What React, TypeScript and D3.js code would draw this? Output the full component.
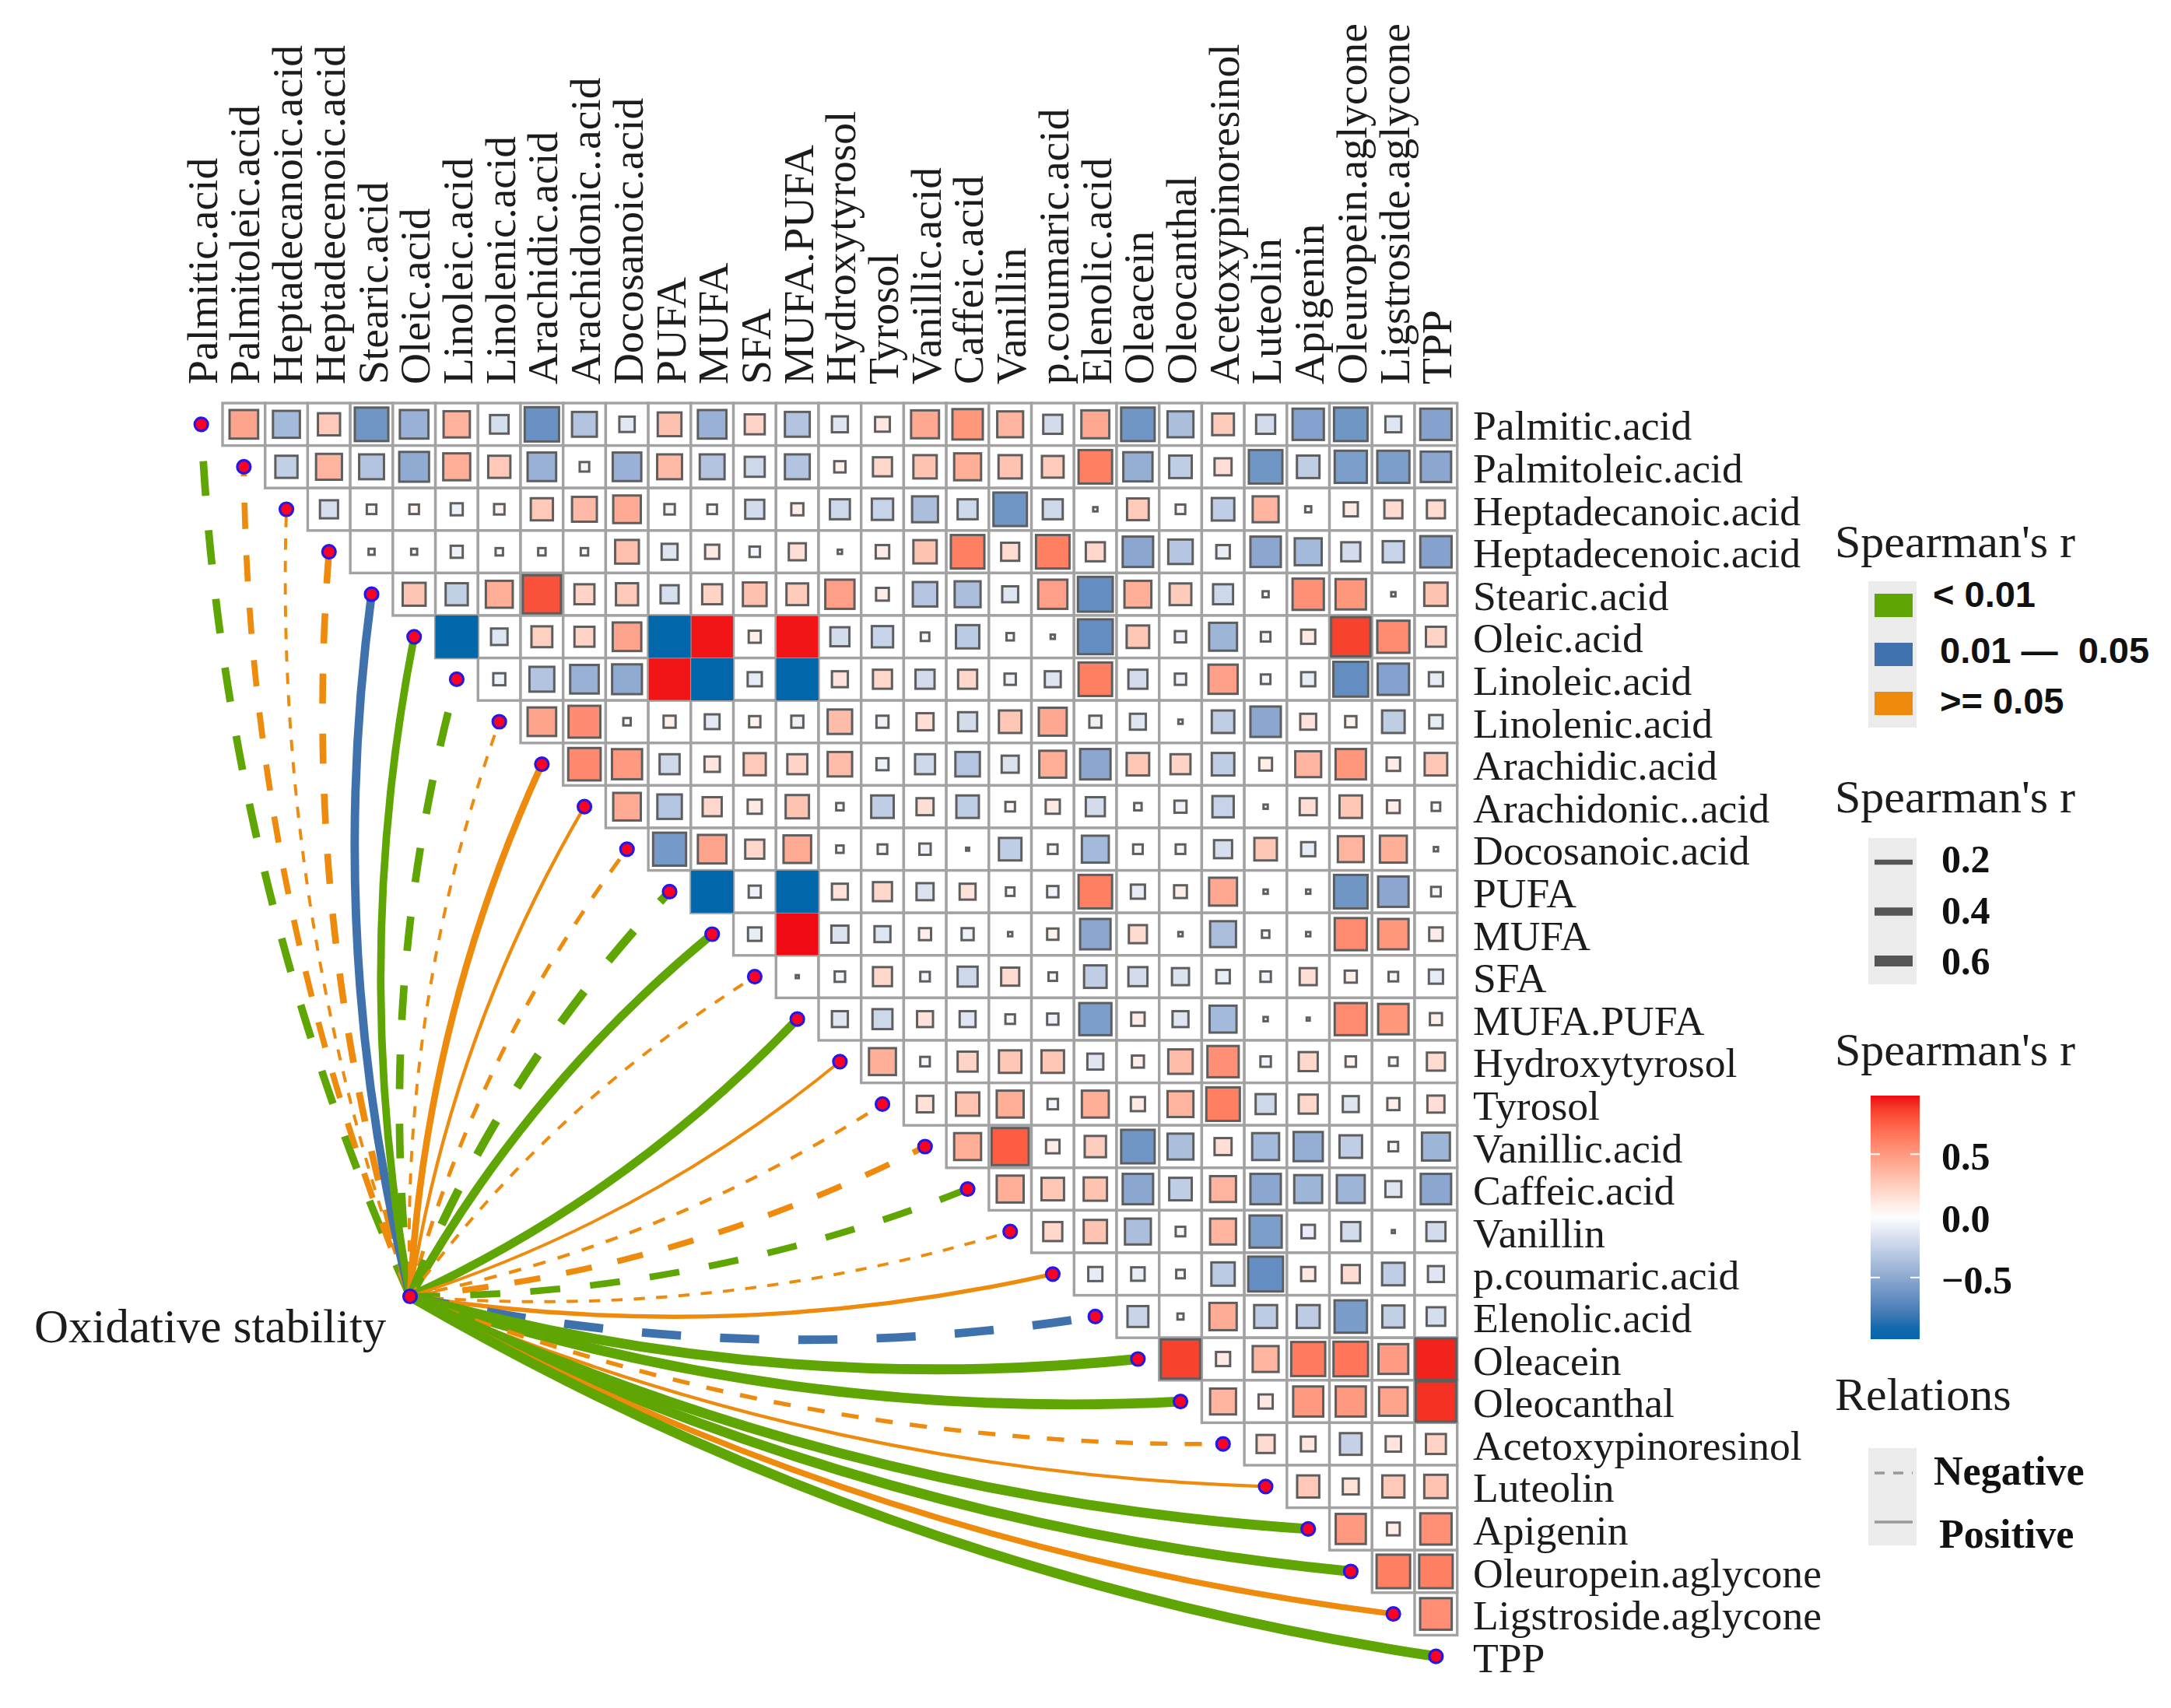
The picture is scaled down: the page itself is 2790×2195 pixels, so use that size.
import * as d3 from "d3"

const labels = [
  "Palmitic.acid", "Palmitoleic.acid", "Heptadecanoic.acid", "Heptadecenoic.acid", "Stearic.acid",
  "Oleic.acid", "Linoleic.acid", "Linolenic.acid", "Arachidic.acid", "Arachidonic..acid",
  "Docosanoic.acid", "PUFA", "MUFA", "SFA", "MUFA.PUFA",
  "Hydroxytyrosol", "Tyrosol", "Vanillic.acid", "Caffeic.acid", "Vanillin",
  "p.coumaric.acid", "Elenolic.acid", "Oleacein", "Oleocanthal", "Acetoxypinoresinol",
  "Luteolin", "Apigenin", "Oleuropein.aglycone", "Ligstroside.aglycone", "TPP",
]

// upper triangle, row i holds the columns i + 1 ... 29
const corrValues: number[][] = [
  [.45, -.4, .27, -.62, -.45, .38, -.19, -.65, -.34, -.13, .31, -.45, .22, -.34, -.14, .12, .43, .51, .37, -.2, .43, -.62, -.37, .26, -.2, -.54, -.62, -.14, -.54],
  [-.27, .37, -.34, -.49, .4, .27, -.45, -.05, -.45, .34, -.34, -.22, -.34, .07, .2, .3, .4, .3, .26, .62, -.47, -.28, .16, -.62, -.28, -.57, -.57, -.51],
  [-.18, -.05, .05, -.08, .06, .27, .34, .42, -.06, -.05, -.2, .08, -.22, -.25, -.37, -.22, -.62, -.22, -.01, .26, .05, -.28, .37, -.02, .11, .18, .18],
  [-.02, -.02, -.08, -.03, -.03, -.03, .31, -.14, .11, -.06, .16, -.01, .1, .3, .62, .18, .62, .2, -.51, -.33, -.1, -.51, -.4, -.2, -.25, -.54],
  [.29, -.27, .4, .8, .22, .27, -.18, .22, .31, .26, .47, .09, -.33, -.37, -.14, .47, -.67, .4, .26, -.22, -.02, .54, .51, -.01, .3],
  [-1, -.15, .24, .22, .45, -.98, .95, .08, .95, -.2, -.25, -.04, -.3, -.03, -.01, -.67, .28, -.07, -.43, -.05, .11, .85, .57, .22],
  [-.08, -.34, -.45, -.49, .95, -.98, -.11, -.98, .14, .2, -.2, .2, -.07, -.14, .62, -.2, -.07, .47, -.05, -.11, -.67, -.54, -.11],
  [.45, .56, -.03, .08, -.12, .07, -.08, .33, -.08, .16, -.2, .28, .43, -.08, -.14, -.01, -.28, -.51, .14, .07, -.28, -.1],
  [.58, .5, -.22, .13, .27, .22, .33, -.08, -.22, -.33, -.16, .4, -.51, .28, .22, -.28, .09, .37, .51, .1, .28],
  [.42, -.33, .2, .11, .3, -.03, -.28, .16, -.28, .05, .11, -.2, -.03, -.08, -.25, -.01, .16, .28, .09, -.04],
  [-.6, .45, .2, .42, -.03, -.05, -.07, -.005, -.28, -.05, -.4, -.05, -.05, -.18, .28, -.11, .37, .4, -.01],
  [-.98, -.08, -.98, .14, .2, -.16, .14, -.04, -.07, .62, -.11, .09, .43, -.01, -.01, -.62, -.51, -.05],
  [-.1, .96, -.16, -.14, .08, -.08, -.01, .07, -.51, .18, -.01, -.37, -.03, -.01, .57, .51, .1],
  [-.005, -.06, .2, -.05, -.22, .18, -.04, -.28, -.2, -.16, -.1, -.06, .16, .08, -.05, -.11],
  [-.14, -.22, .14, -.14, -.05, -.07, -.57, .1, -.14, -.4, -.01, -.005, .57, .51, .08],
  [.4, -.05, .22, .28, .28, -.14, .08, .33, .54, -.06, .2, .06, -.04, .18],
  [.15, .3, .4, -.06, .4, .11, .37, .62, -.22, .2, -.14, .08, .16],
  [.4, .76, .1, .25, -.62, -.37, .16, -.4, -.47, -.28, -.05, -.43],
  [.4, .28, .3, -.51, -.28, .37, -.51, -.43, -.43, -.14, -.51],
  [.2, .3, -.37, -.05, .37, -.57, -.1, -.2, -.005, -.2],
  [-.11, -.1, -.04, -.3, -.67, .11, .18, -.28, -.14],
  [-.24, -.02, .41, -.29, -.29, -.58, -.27, -.19],
  [.85, .11, .37, .64, .66, .49, .93],
  [.37, .11, .5, .5, .45, .9],
  [.18, .12, -.26, .13, .22],
  [.27, .14, .27, .3],
  [.5, .09, .54],
  [.62, .62],
  [.55],
]

// oxidative stability against each compound, Spearman's r and p class
const linkR = [
  -.37, -.26, -.06, -.31, .43, .37, -.37, -.06, .31, .08,
  -.12, -.43, .43, -.06, .43, .06, -.08, -.26, -.31, -.06,
  .14, -.43, .54, .54, -.14, .08, .54, .54, .26, .54,
]
const linkP = [
  "low", "high", "high", "high", "mid", "low", "low", "high", "high", "high",
  "high", "low", "low", "high", "low", "high", "high", "high", "low", "high",
  "high", "mid", "low", "low", "high", "high", "low", "low", "high", "low",
]

const pLevels = ["low", "mid", "high"]
const pLabels = ["< 0.01", "0.01 \u2014  0.05", ">= 0.05"]
const pColors = ["#5FA503", "#3F72AC", "#EE8A0C"]
const widthBreaks = [0.2, 0.4, 0.6]
const barTicks = [0.5, 0, -0.5]
const hubLabel = "Oxidative stability"

const serif = "'Liberation Serif', serif"
const sans = "'Liberation Sans', sans-serif"
const textColor = "#1c1c1c"

const hub = { x: 527, y: 1666 }
const cellSize = 54.7

const x = d3.scaleBand<string>().domain(labels).range([231.3, 1872.7])
const y = d3.scaleBand<string>().domain(labels).range([518, 2156])
const cx = (name: string) => (x(name) ?? 0) + x.bandwidth() / 2
const cy = (name: string) => (y(name) ?? 0) + y.bandwidth() / 2

const fillScale = d3
  .scaleLinear<string>()
  .domain([-0.92, 0, 0.96])
  .range(["#0267AA", "#ffffff", "#F00A14"])
  .interpolate(d3.interpolateLab)
  .clamp(true)
const sizeScale = d3.scaleSqrt().domain([0, 1]).range([0, cellSize])
const widthScale = d3.scaleLinear().domain([0, 0.6]).range([2.8, 14])
const colorScale = d3.scaleOrdinal<string>().domain(pLevels).range(pColors)
const barScale = d3.scaleLinear().domain([-1, 0.975]).range([1721, 1408])

const corrCells = corrValues.flatMap((row, i) =>
  row.map((r, k) => ({ row: labels[i], col: labels[i + k + 1], r })),
)

// curved link from the hub, first 14 bend one way and the rest the other way
const linkPath = (name: string, i: number) => {
  const tx = cx(name)
  const ty = cy(name)
  const dx = tx - hub.x
  const dy = ty - hub.y
  const sign = i < 14 ? -1 : 1
  const path = d3.path()
  path.moveTo(hub.x, hub.y)
  path.quadraticCurveTo(hub.x + dx / 2 - sign * dy * 0.095, hub.y + dy / 2 + sign * dx * 0.095, tx, ty)
  return path.toString()
}

const dashFor = (w: number) => {
  const dash = Math.max(5.2 * w - 6, 8)
  return `${dash} ${dash}`
}

const Dot = ({ x: px, y: py }: { x: number; y: number }) => (
  <circle cx={px} cy={py} r={8.5} fill="#FF0022" stroke="#2418E8" strokeWidth={3.2} />
)

const App = () => {
  const gradientStops = d3.range(0, 1.001, 0.05).map((t) => {
    const value = -1 + t * 1.975
    return { t, color: fillScale(value) }
  })

  return (
    <svg
      width={2790}
      height={2195}
      viewBox="0 0 2790 2195"
      style={{ position: "absolute", left: 0, top: 0, background: "#fff" }}
    >
      <defs>
        <linearGradient id="rBar" x1="0" x2="0" y1="1" y2="0">
          {gradientStops.map((d) => (
            <stop key={d.t} offset={d.t} stopColor={d.color} />
          ))}
        </linearGradient>
      </defs>

      {/* Cell grid and squares */}
      <g>
        {corrCells.map((d) => (
          <rect
            key={`c-${d.row}-${d.col}`}
            x={x(d.col)}
            y={y(d.row)}
            width={x.bandwidth()}
            height={y.bandwidth()}
            fill="#fff"
            stroke="#A2A2A2"
            strokeWidth={3.4}
          />
        ))}
        {corrCells.map((d) => {
          const side = sizeScale(Math.abs(d.r))
          return (
            <rect
              key={`s-${d.row}-${d.col}`}
              x={cx(d.col) - side / 2}
              y={cy(d.row) - side / 2}
              width={side}
              height={side}
              fill={fillScale(d.r)}
              stroke={Math.abs(d.r) > 0.94 ? "none" : "#5E5E5E"}
              strokeWidth={3}
            />
          )
        })}
      </g>

      {/* Links */}
      <g fill="none">
        {labels.map((name, i) => {
          const w = widthScale(Math.abs(linkR[i]))
          return (
            <path
              key={name}
              d={linkPath(name, i)}
              stroke={colorScale(linkP[i])}
              strokeWidth={w}
              strokeDasharray={linkR[i] < 0 ? dashFor(w) : undefined}
            />
          )
        })}
      </g>
      <g>
        {labels.map((name) => (
          <Dot key={name} x={cx(name)} y={cy(name)} />
        ))}
        <Dot x={hub.x} y={hub.y} />
      </g>

      {/* Axis labels */}
      <g fontFamily={serif} fill={textColor}>
        {labels.map((name) => (
          <text key={name} fontSize={55.5} transform={`translate(${cx(name) + 20}, 494) rotate(-90)`}>
            {name}
          </text>
        ))}
        {labels.map((name) => (
          <text key={name} fontSize={53.6} x={1893} y={cy(name) + 20}>
            {name}
          </text>
        ))}
      </g>
      <text x={44} y={1725} fontFamily={serif} fontSize={61} fill={textColor}>
        {hubLabel}
      </text>

      {/* Legend: p value */}
      <g>
        <text x={2358} y={716} fontFamily={serif} fontSize={60} fill={textColor}>
          Spearman's r
        </text>
        <rect x={2401} y={747} width={62} height={188} fill="#EBEBEB" />
        {pLevels.map((level, i) => (
          <rect key={level} x={2409} y={763 + i * 63} width={49} height={30} fill={colorScale(level)} />
        ))}
        <g fontFamily={sans} fontWeight="bold" fontSize={47} fill="#111">
          <text x={2484} y={780}>{pLabels[0]}</text>
          <text x={2493} y={852} xmlSpace="preserve">{pLabels[1]}</text>
          <text x={2493} y={917}>{pLabels[2]}</text>
        </g>
      </g>

      {/* Legend: line width */}
      <g>
        <text x={2358} y={1044} fontFamily={serif} fontSize={60} fill={textColor}>
          Spearman's r
        </text>
        <rect x={2401} y={1077} width={62} height={188} fill="#EBEBEB" />
        {widthBreaks.map((b, i) => (
          <g key={b}>
            <line x1={2409} x2={2458} y1={1108 + i * 63.5} y2={1108 + i * 63.5} stroke="#555" strokeWidth={widthScale(b)} />
            <text
              x={2495}
              y={1121 + i * 65.5}
              fontFamily={serif}
              fontWeight="bold"
              fontSize={50}
              fill="#111"
            >
              {d3.format(".1f")(b)}
            </text>
          </g>
        ))}
      </g>

      {/* Legend: colour bar */}
      <g>
        <text x={2358} y={1369} fontFamily={serif} fontSize={60} fill={textColor}>
          Spearman's r
        </text>
        <rect x={2404} y={1408} width={63} height={313} fill="url(#rBar)" />
        {barTicks.map((t) =>
          t === 0 ? null : (
            <g key={t} stroke="#fff" strokeWidth={2}>
              <line x1={2404} x2={2416} y1={barScale(t)} y2={barScale(t)} />
              <line x1={2455} x2={2467} y1={barScale(t)} y2={barScale(t)} />
            </g>
          ),
        )}
        {barTicks.map((t) => (
          <text
            key={t}
            x={2495}
            y={barScale(t) + 20}
            fontFamily={serif}
            fontWeight="bold"
            fontSize={50}
            fill="#111"
          >
            {d3.format(".1f")(t).replace("-", "\u2212")}
          </text>
        ))}
      </g>

      {/* Legend: relations */}
      <g>
        <text x={2358} y={1812} fontFamily={serif} fontSize={60} fill={textColor}>
          Relations
        </text>
        <rect x={2401} y={1861} width={62} height={125} fill="#EBEBEB" />
        <line x1={2409} x2={2458} y1={1893} y2={1893} stroke="#999" strokeWidth={3.5} strokeDasharray="13 11" />
        <line x1={2409} x2={2458} y1={1956} y2={1956} stroke="#999" strokeWidth={3.5} />
        <g fontFamily={serif} fontWeight="bold" fontSize={52} fill="#111">
          <text x={2485} y={1908}>Negative</text>
          <text x={2492} y={1989}>Positive</text>
        </g>
      </g>
    </svg>
  )
}

export default App
